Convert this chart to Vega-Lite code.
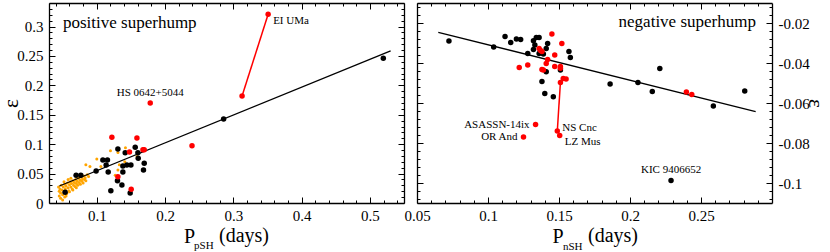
{
  "$schema": "https://vega.github.io/schema/vega-lite/v6.json",
  "width": 723,
  "height": 200,
  "autosize": {"type": "none"},
  "padding": {"left": 49, "top": 3, "right": 58, "bottom": 49},
  "background": "white",
  "config": {
    "view": {"stroke": null},
    "font": "Liberation Serif",
    "style": {"guide-label": {"font": "Liberation Serif", "fontSize": 15, "fill": "black"}, "guide-title": {"font": "Liberation Serif", "fontWeight": "normal"}},
    "axis": {
      "grid": false,
      "domainColor": "black",
      "domainWidth": 1.3,
      "tickColor": "black",
      "tickWidth": 1,
      "labelFont": "Liberation Serif",
      "labelFontSize": 15,
      "labelColor": "black",
      "labelFlush": false,
      "labelOverlap": false,
      "labelBound": false,
      "titleFont": "Liberation Serif",
      "titleFontWeight": "normal",
      "titleColor": "black"
    },
    "text": {"font": "Liberation Serif", "color": "black"}
  },
  "datasets": {
    "pos": [
      {"P": 0.0536, "e": 0.0182, "type": "black"},
      {"P": 0.0697, "e": 0.0471, "type": "black"},
      {"P": 0.0766, "e": 0.0471, "type": "black"},
      {"P": 0.099, "e": 0.0544, "type": "black"},
      {"P": 0.1089, "e": 0.0731, "type": "black"},
      {"P": 0.1156, "e": 0.0731, "type": "black"},
      {"P": 0.1137, "e": 0.0646, "type": "black"},
      {"P": 0.1167, "e": 0.0527, "type": "black"},
      {"P": 0.1206, "e": 0.0209, "type": "black"},
      {"P": 0.1309, "e": 0.0918, "type": "black"},
      {"P": 0.1303, "e": 0.0379, "type": "black"},
      {"P": 0.1368, "e": 0.0306, "type": "black"},
      {"P": 0.1382, "e": 0.0629, "type": "black"},
      {"P": 0.1382, "e": 0.0527, "type": "black"},
      {"P": 0.1416, "e": 0.0855, "type": "black"},
      {"P": 0.1441, "e": 0.0646, "type": "black"},
      {"P": 0.1489, "e": 0.017, "type": "black"},
      {"P": 0.15, "e": 0.0646, "type": "black"},
      {"P": 0.1563, "e": 0.0947, "type": "black"},
      {"P": 0.1607, "e": 0.076, "type": "black"},
      {"P": 0.1695, "e": 0.0675, "type": "black"},
      {"P": 0.1684, "e": 0.0561, "type": "black"},
      {"P": 0.1602, "e": 0.0855, "type": "black"},
      {"P": 0.2858, "e": 0.1429, "type": "black"},
      {"P": 0.5197, "e": 0.2461, "type": "black"},
      {"P": 0.1221, "e": 0.1117, "type": "red"},
      {"P": 0.1588, "e": 0.1105, "type": "red"},
      {"P": 0.1479, "e": 0.0867, "type": "red"},
      {"P": 0.1676, "e": 0.0906, "type": "red"},
      {"P": 0.1695, "e": 0.0906, "type": "red"},
      {"P": 0.1309, "e": 0.0447, "type": "red"},
      {"P": 0.1504, "e": 0.0233, "type": "red"},
      {"P": 0.2395, "e": 0.0974, "type": "red"},
      {"P": 0.1783, "e": 0.17, "type": "red"},
      {"P": 0.351, "e": 0.3209, "type": "red"},
      {"P": 0.3128, "e": 0.182, "type": "red"},
      {"P": 0.044, "e": 0.027, "type": "orange"},
      {"P": 0.045, "e": 0.02, "type": "orange"},
      {"P": 0.045, "e": 0.012, "type": "orange"},
      {"P": 0.046, "e": 0.024, "type": "orange"},
      {"P": 0.047, "e": 0.008, "type": "orange"},
      {"P": 0.047, "e": 0.017, "type": "orange"},
      {"P": 0.048, "e": 0.03, "type": "orange"},
      {"P": 0.049, "e": 0.022, "type": "orange"},
      {"P": 0.05, "e": 0.014, "type": "orange"},
      {"P": 0.05, "e": 0.005, "type": "orange"},
      {"P": 0.051, "e": 0.027, "type": "orange"},
      {"P": 0.052, "e": 0.019, "type": "orange"},
      {"P": 0.053, "e": 0.032, "type": "orange"},
      {"P": 0.053, "e": 0.01, "type": "orange"},
      {"P": 0.054, "e": 0.024, "type": "orange"},
      {"P": 0.055, "e": 0.029, "type": "orange"},
      {"P": 0.056, "e": 0.016, "type": "orange"},
      {"P": 0.057, "e": 0.034, "type": "orange"},
      {"P": 0.058, "e": 0.026, "type": "orange"},
      {"P": 0.059, "e": 0.021, "type": "orange"},
      {"P": 0.06, "e": 0.031, "type": "orange"},
      {"P": 0.061, "e": 0.036, "type": "orange"},
      {"P": 0.062, "e": 0.027, "type": "orange"},
      {"P": 0.063, "e": 0.033, "type": "orange"},
      {"P": 0.064, "e": 0.024, "type": "orange"},
      {"P": 0.065, "e": 0.038, "type": "orange"},
      {"P": 0.066, "e": 0.03, "type": "orange"},
      {"P": 0.067, "e": 0.035, "type": "orange"},
      {"P": 0.068, "e": 0.028, "type": "orange"},
      {"P": 0.069, "e": 0.04, "type": "orange"},
      {"P": 0.07, "e": 0.033, "type": "orange"},
      {"P": 0.071, "e": 0.037, "type": "orange"},
      {"P": 0.072, "e": 0.03, "type": "orange"},
      {"P": 0.073, "e": 0.042, "type": "orange"},
      {"P": 0.074, "e": 0.035, "type": "orange"},
      {"P": 0.075, "e": 0.039, "type": "orange"},
      {"P": 0.076, "e": 0.032, "type": "orange"},
      {"P": 0.077, "e": 0.044, "type": "orange"},
      {"P": 0.078, "e": 0.037, "type": "orange"},
      {"P": 0.079, "e": 0.041, "type": "orange"},
      {"P": 0.08, "e": 0.034, "type": "orange"},
      {"P": 0.081, "e": 0.046, "type": "orange"},
      {"P": 0.082, "e": 0.04, "type": "orange"},
      {"P": 0.083, "e": 0.043, "type": "orange"},
      {"P": 0.084, "e": 0.038, "type": "orange"},
      {"P": 0.086, "e": 0.048, "type": "orange"},
      {"P": 0.088, "e": 0.045, "type": "orange"},
      {"P": 0.06, "e": 0.019, "type": "orange"},
      {"P": 0.055, "e": 0.012, "type": "orange"},
      {"P": 0.065, "e": 0.022, "type": "orange"},
      {"P": 0.07, "e": 0.026, "type": "orange"},
      {"P": 0.058, "e": 0.04, "type": "orange"},
      {"P": 0.062, "e": 0.042, "type": "orange"},
      {"P": 0.052, "e": 0.036, "type": "orange"},
      {"P": 0.131, "e": 0.086, "type": "orange"},
      {"P": 0.142, "e": 0.094, "type": "orange"},
      {"P": 0.133, "e": 0.065, "type": "orange"},
      {"P": 0.131, "e": 0.056, "type": "orange"},
      {"P": 0.159, "e": 0.079, "type": "orange"},
      {"P": 0.141, "e": 0.07, "type": "orange"},
      {"P": 0.1, "e": 0.075, "type": "orange"},
      {"P": 0.106, "e": 0.062, "type": "orange"},
      {"P": 0.12, "e": 0.089, "type": "orange"},
      {"P": 0.127, "e": 0.047, "type": "orange"},
      {"P": 0.084, "e": 0.065, "type": "orange"},
      {"P": 0.09, "e": 0.062, "type": "orange"}
    ],
    "pos_fit": [{"P": 0.0452, "e": 0.0289}, {"P": 0.5304, "e": 0.2585}],
    "ei": [{"P": 0.3128, "e": 0.182}, {"P": 0.351, "e": 0.3209}],
    "pos_lab": [
      {"P": 0.1783, "e": 0.17, "name": "HS 0642+5044", "pos": "above"},
      {"P": 0.351, "e": 0.3209, "name": "EI UMa", "pos": "right"}
    ],
    "neg": [
      {"P": 0.0725, "e": -0.029, "type": "black"},
      {"P": 0.104, "e": -0.032, "type": "black"},
      {"P": 0.112, "e": -0.0268, "type": "black"},
      {"P": 0.116, "e": -0.0297, "type": "black"},
      {"P": 0.12, "e": -0.028, "type": "black"},
      {"P": 0.123, "e": -0.0283, "type": "black"},
      {"P": 0.128, "e": -0.0353, "type": "black"},
      {"P": 0.132, "e": -0.0289, "type": "black"},
      {"P": 0.133, "e": -0.031, "type": "black"},
      {"P": 0.134, "e": -0.0272, "type": "black"},
      {"P": 0.136, "e": -0.0272, "type": "black"},
      {"P": 0.132, "e": -0.0332, "type": "black"},
      {"P": 0.136, "e": -0.0352, "type": "black"},
      {"P": 0.139, "e": -0.0355, "type": "black"},
      {"P": 0.141, "e": -0.0327, "type": "black"},
      {"P": 0.142, "e": -0.0302, "type": "black"},
      {"P": 0.141, "e": -0.0444, "type": "black"},
      {"P": 0.151, "e": -0.0435, "type": "black"},
      {"P": 0.138, "e": -0.0492, "type": "black"},
      {"P": 0.14, "e": -0.0553, "type": "black"},
      {"P": 0.146, "e": -0.0569, "type": "black"},
      {"P": 0.157, "e": -0.0342, "type": "black"},
      {"P": 0.158, "e": -0.0372, "type": "black"},
      {"P": 0.186, "e": -0.0505, "type": "black"},
      {"P": 0.2056, "e": -0.0498, "type": "black"},
      {"P": 0.2157, "e": -0.0543, "type": "black"},
      {"P": 0.221, "e": -0.0427, "type": "black"},
      {"P": 0.2587, "e": -0.0615, "type": "black"},
      {"P": 0.2808, "e": -0.054, "type": "black"},
      {"P": 0.2289, "e": -0.0987, "type": "black"},
      {"P": 0.145, "e": -0.0255, "type": "red"},
      {"P": 0.152, "e": -0.0302, "type": "red"},
      {"P": 0.136, "e": -0.0327, "type": "red"},
      {"P": 0.137, "e": -0.0338, "type": "red"},
      {"P": 0.138, "e": -0.0343, "type": "red"},
      {"P": 0.147, "e": -0.036, "type": "red"},
      {"P": 0.142, "e": -0.0382, "type": "red"},
      {"P": 0.141, "e": -0.0402, "type": "red"},
      {"P": 0.128, "e": -0.041, "type": "red"},
      {"P": 0.122, "e": -0.0422, "type": "red"},
      {"P": 0.138, "e": -0.0432, "type": "red"},
      {"P": 0.139, "e": -0.0435, "type": "red"},
      {"P": 0.147, "e": -0.0418, "type": "red"},
      {"P": 0.151, "e": -0.0418, "type": "red"},
      {"P": 0.151, "e": -0.0426, "type": "red"},
      {"P": 0.153, "e": -0.0478, "type": "red"},
      {"P": 0.155, "e": -0.048, "type": "red"},
      {"P": 0.151, "e": -0.0497, "type": "red"},
      {"P": 0.2397, "e": -0.0545, "type": "red"},
      {"P": 0.2435, "e": -0.0558, "type": "red"},
      {"P": 0.1335, "e": -0.0708, "type": "red"},
      {"P": 0.125, "e": -0.077, "type": "red"},
      {"P": 0.1488, "e": -0.074, "type": "red"},
      {"P": 0.1505, "e": -0.0763, "type": "red"}
    ],
    "neg_fit": [{"P": 0.065, "e": -0.0247}, {"P": 0.2885, "e": -0.0643}],
    "ns": [{"P": 0.151, "e": -0.0497}, {"P": 0.1488, "e": -0.074}],
    "neg_lab": [
      {"P": 0.1335, "e": -0.0708, "name": "ASASSN-14ix", "pos": "left"},
      {"P": 0.125, "e": -0.077, "name": "OR And", "pos": "left"},
      {"P": 0.1488, "e": -0.074, "name": "NS Cnc", "pos": "rightup"},
      {"P": 0.1505, "e": -0.0763, "name": "LZ Mus", "pos": "rightdown"},
      {"P": 0.2289, "e": -0.0987, "name": "KIC 9406652", "pos": "above"}
    ],
    "one": [{"k": 1}]
  },
  "resolve": {"scale": {"x": "independent", "y": "independent"}, "axis": {"x": "independent", "y": "independent"}},
  "layer": [
    {
      "resolve": {"axis": {"x": "independent", "y": "independent"}},
      "layer": [
        {
          "data": {"name": "pos"},
          "transform": [{"filter": "datum.type == 'orange'"}],
          "mark": {"type": "circle", "size": 9, "opacity": 1, "color": "#ffa500"},
          "encoding": {
            "x": {"field": "P", "type": "quantitative", "scale": {"domain": [0.03, 0.55], "range": [0, 355], "nice": false, "zero": false},
              "axis": {"orient": "bottom", "values": [0.04,0.06,0.08,0.1,0.12,0.14,0.16,0.18,0.2,0.22,0.24,0.26,0.28,0.3,0.32,0.34,0.36,0.38,0.4,0.42,0.44,0.46,0.48,0.5,0.52,0.54],
                "labelExpr": "indexof([0.1,0.2,0.3,0.4,0.5], datum.value) >= 0 ? toString(datum.value) : ''",
                "tickSize": {"condition": {"test": "indexof([0.1,0.2,0.3,0.4,0.5], datum.value) >= 0", "value": -6}, "value": -3},
                "labelPadding": 11, "labelFont": "Liberation Serif", "labelFontSize": 15,
                "title": "P", "titleFont": "Liberation Serif", "titleFontWeight": "normal", "titleFontSize": 20, "titleAlign": "left", "titleX": 134.5, "titleBaseline": "alphabetic", "titleY": 39}},
            "y": {"field": "e", "type": "quantitative", "scale": {"domain": [0, 0.34], "range": [200, 0], "nice": false, "zero": false},
              "axis": {"orient": "left", "values": [0,0.01,0.02,0.03,0.04,0.05,0.06,0.07,0.08,0.09,0.1,0.11,0.12,0.13,0.14,0.15,0.16,0.17,0.18,0.19,0.2,0.21,0.22,0.23,0.24,0.25,0.26,0.27,0.28,0.29,0.3,0.31,0.32,0.33,0.34],
                "labelExpr": "indexof([0,0.05,0.1,0.15,0.2,0.25,0.3], datum.value) >= 0 ? toString(datum.value) : ''",
                "tickSize": {"condition": {"test": "indexof([0,0.05,0.1,0.15,0.2,0.25,0.3], datum.value) >= 0", "value": -6}, "value": -3},
                "labelPadding": 12, "labelFont": "Liberation Serif", "labelFontSize": 15,
                "title": "ε", "titleFont": "Liberation Serif", "titleFontWeight": "normal", "titleFontSize": 21, "titleAngle": 270, "titleX": -38, "titleY": 100, "titleAlign": "center", "titleBaseline": "middle"}}
          }
        },
        {
          "data": {"name": "pos_fit"},
          "mark": {"type": "line", "color": "black", "strokeWidth": 1.3},
          "encoding": {
            "x": {"field": "P", "type": "quantitative", "scale": {"domain": [0.03, 0.55], "range": [0, 355], "nice": false, "zero": false},
              "axis": {"orient": "top", "values": [0.04,0.06,0.08,0.1,0.12,0.14,0.16,0.18,0.2,0.22,0.24,0.26,0.28,0.3,0.32,0.34,0.36,0.38,0.4,0.42,0.44,0.46,0.48,0.5,0.52,0.54],
                "labels": false, "title": null,
                "tickSize": {"condition": {"test": "indexof([0.1,0.2,0.3,0.4,0.5], datum.value) >= 0", "value": -6}, "value": -3}}},
            "y": {"field": "e", "type": "quantitative", "scale": {"domain": [0, 0.34], "range": [200, 0], "nice": false, "zero": false},
              "axis": {"orient": "right", "offset": -368, "values": [0,0.01,0.02,0.03,0.04,0.05,0.06,0.07,0.08,0.09,0.1,0.11,0.12,0.13,0.14,0.15,0.16,0.17,0.18,0.19,0.2,0.21,0.22,0.23,0.24,0.25,0.26,0.27,0.28,0.29,0.3,0.31,0.32,0.33,0.34],
                "labels": false, "title": null,
                "tickSize": {"condition": {"test": "indexof([0,0.05,0.1,0.15,0.2,0.25,0.3], datum.value) >= 0", "value": -6}, "value": -3}}}
          }
        },
        {
          "data": {"name": "pos"},
          "transform": [{"filter": "datum.type == 'black'"}],
          "mark": {"type": "circle", "size": 30, "opacity": 1, "color": "black"},
          "encoding": {
            "x": {"field": "P", "type": "quantitative", "scale": {"domain": [0.03, 0.55], "range": [0, 355], "nice": false, "zero": false}, "axis": null},
            "y": {"field": "e", "type": "quantitative", "scale": {"domain": [0, 0.34], "range": [200, 0], "nice": false, "zero": false}, "axis": null}
          }
        },
        {
          "data": {"name": "ei"},
          "mark": {"type": "line", "color": "#ff0000", "strokeWidth": 1.5},
          "encoding": {
            "x": {"field": "P", "type": "quantitative", "scale": {"domain": [0.03, 0.55], "range": [0, 355], "nice": false, "zero": false}, "axis": null},
            "y": {"field": "e", "type": "quantitative", "scale": {"domain": [0, 0.34], "range": [200, 0], "nice": false, "zero": false}, "axis": null}
          }
        },
        {
          "data": {"name": "pos"},
          "transform": [{"filter": "datum.type == 'red'"}],
          "mark": {"type": "circle", "size": 30, "opacity": 1, "color": "#ff0000"},
          "encoding": {
            "x": {"field": "P", "type": "quantitative", "scale": {"domain": [0.03, 0.55], "range": [0, 355], "nice": false, "zero": false}, "axis": null},
            "y": {"field": "e", "type": "quantitative", "scale": {"domain": [0, 0.34], "range": [200, 0], "nice": false, "zero": false}, "axis": null}
          }
        },
        {
          "data": {"name": "pos_lab"},
          "transform": [{"filter": "datum.pos == 'above'"}],
          "mark": {"type": "text", "font": "Liberation Serif", "fontSize": 11, "align": "center", "baseline": "alphabetic", "dy": -7},
          "encoding": {
            "x": {"field": "P", "type": "quantitative", "scale": {"domain": [0.03, 0.55], "range": [0, 355], "nice": false, "zero": false}, "axis": null},
            "y": {"field": "e", "type": "quantitative", "scale": {"domain": [0, 0.34], "range": [200, 0], "nice": false, "zero": false}, "axis": null},
            "text": {"field": "name"}
          }
        },
        {
          "data": {"name": "pos_lab"},
          "transform": [{"filter": "datum.pos == 'right'"}],
          "mark": {"type": "text", "font": "Liberation Serif", "fontSize": 11, "align": "left", "baseline": "middle", "dx": 5, "dy": 7},
          "encoding": {
            "x": {"field": "P", "type": "quantitative", "scale": {"domain": [0.03, 0.55], "range": [0, 355], "nice": false, "zero": false}, "axis": null},
            "y": {"field": "e", "type": "quantitative", "scale": {"domain": [0, 0.34], "range": [200, 0], "nice": false, "zero": false}, "axis": null},
            "text": {"field": "name"}
          }
        },
        {
          "data": {"name": "one"},
          "mark": {"type": "text", "font": "Liberation Serif", "fontSize": 17, "align": "left", "baseline": "alphabetic", "text": "positive superhump"},
          "encoding": {
            "x": {"datum": 0.0505, "type": "quantitative", "scale": {"domain": [0.03, 0.55], "range": [0, 355], "nice": false, "zero": false}, "axis": null},
            "y": {"datum": 0.2975, "type": "quantitative", "scale": {"domain": [0, 0.34], "range": [200, 0], "nice": false, "zero": false}, "axis": null}
          }
        },
        {
          "data": {"name": "one"},
          "mark": {"type": "text", "font": "Liberation Serif", "fontSize": 11, "align": "left", "baseline": "alphabetic", "text": "pSH"},
          "encoding": {
            "x": {"datum": 0.2425, "type": "quantitative", "scale": {"domain": [0.03, 0.55], "range": [0, 355], "nice": false, "zero": false}, "axis": null},
            "y": {"datum": -0.0782, "type": "quantitative", "scale": {"domain": [0, 0.34], "range": [200, 0], "nice": false, "zero": false}, "axis": null}
          }
        },
        {
          "data": {"name": "one"},
          "mark": {"type": "text", "font": "Liberation Serif", "fontSize": 20, "align": "left", "baseline": "alphabetic", "text": "(days)"},
          "encoding": {
            "x": {"datum": 0.279, "type": "quantitative", "scale": {"domain": [0.03, 0.55], "range": [0, 355], "nice": false, "zero": false}, "axis": null},
            "y": {"datum": -0.0663, "type": "quantitative", "scale": {"domain": [0, 0.34], "range": [200, 0], "nice": false, "zero": false}, "axis": null}
          }
        }
      ]
    },
    {
      "resolve": {"axis": {"x": "independent", "y": "independent"}},
      "layer": [
        {
          "data": {"name": "neg_fit"},
          "mark": {"type": "line", "color": "black", "strokeWidth": 1.3},
          "encoding": {
            "x": {"field": "P", "type": "quantitative", "scale": {"domain": [0.05, 0.3], "range": [368, 723], "nice": false, "zero": false},
              "axis": {"orient": "bottom", "values": [0.05,0.06,0.07,0.08,0.09,0.1,0.11,0.12,0.13,0.14,0.15,0.16,0.17,0.18,0.19,0.2,0.21,0.22,0.23,0.24,0.25,0.26,0.27,0.28,0.29],
                "labelExpr": "indexof([0.05,0.1,0.15,0.2,0.25], datum.value) >= 0 ? toString(datum.value) : ''",
                "tickSize": {"condition": {"test": "indexof([0.05,0.1,0.15,0.2,0.25], datum.value) >= 0", "value": -6}, "value": -3},
                "labelPadding": 11, "labelFont": "Liberation Serif", "labelFontSize": 15,
                "title": "P", "titleFont": "Liberation Serif", "titleFontWeight": "normal", "titleFontSize": 20, "titleAlign": "left", "titleX": 503, "titleBaseline": "alphabetic", "titleY": 39}},
            "y": {"field": "e", "type": "quantitative", "scale": {"domain": [-0.11, -0.01], "range": [200, 0], "nice": false, "zero": false},
              "axis": {"orient": "right", "values": [-0.108,-0.104,-0.1,-0.096,-0.092,-0.088,-0.084,-0.08,-0.076,-0.072,-0.068,-0.064,-0.06,-0.056,-0.052,-0.048,-0.044,-0.04,-0.036,-0.032,-0.028,-0.024,-0.02,-0.016,-0.012],
                "labelExpr": "indexof([-0.02,-0.04,-0.06,-0.08,-0.1], datum.value) >= 0 ? toString(datum.value) : ''",
                "tickSize": {"condition": {"test": "indexof([-0.02,-0.04,-0.06,-0.08,-0.1], datum.value) >= 0", "value": -6}, "value": -3},
                "labelPadding": 12, "labelFont": "Liberation Serif", "labelFontSize": 15,
                "title": "ε", "titleFont": "Liberation Serif", "titleFontWeight": "normal", "titleFontSize": 21, "titleAngle": 90, "titleX": 42, "titleY": 100, "titleAlign": "center", "titleBaseline": "middle"}}
          }
        },
        {
          "data": {"name": "ns"},
          "mark": {"type": "line", "color": "#ff0000", "strokeWidth": 1.5},
          "encoding": {
            "x": {"field": "P", "type": "quantitative", "scale": {"domain": [0.05, 0.3], "range": [368, 723], "nice": false, "zero": false},
              "axis": {"orient": "top", "values": [0.05,0.06,0.07,0.08,0.09,0.1,0.11,0.12,0.13,0.14,0.15,0.16,0.17,0.18,0.19,0.2,0.21,0.22,0.23,0.24,0.25,0.26,0.27,0.28,0.29],
                "labels": false, "title": null,
                "tickSize": {"condition": {"test": "indexof([0.05,0.1,0.15,0.2,0.25], datum.value) >= 0", "value": -6}, "value": -3}}},
            "y": {"field": "e", "type": "quantitative", "scale": {"domain": [-0.11, -0.01], "range": [200, 0], "nice": false, "zero": false},
              "axis": {"orient": "left", "offset": -368, "values": [-0.108,-0.104,-0.1,-0.096,-0.092,-0.088,-0.084,-0.08,-0.076,-0.072,-0.068,-0.064,-0.06,-0.056,-0.052,-0.048,-0.044,-0.04,-0.036,-0.032,-0.028,-0.024,-0.02,-0.016,-0.012],
                "labels": false, "title": null,
                "tickSize": {"condition": {"test": "indexof([-0.02,-0.04,-0.06,-0.08,-0.1], datum.value) >= 0", "value": -6}, "value": -3}}}
          }
        },
        {
          "data": {"name": "neg"},
          "transform": [{"filter": "datum.type == 'black'"}],
          "mark": {"type": "circle", "size": 30, "opacity": 1, "color": "black"},
          "encoding": {
            "x": {"field": "P", "type": "quantitative", "scale": {"domain": [0.05, 0.3], "range": [368, 723], "nice": false, "zero": false}, "axis": null},
            "y": {"field": "e", "type": "quantitative", "scale": {"domain": [-0.11, -0.01], "range": [200, 0], "nice": false, "zero": false}, "axis": null}
          }
        },
        {
          "data": {"name": "neg"},
          "transform": [{"filter": "datum.type == 'red'"}],
          "mark": {"type": "circle", "size": 30, "opacity": 1, "color": "#ff0000"},
          "encoding": {
            "x": {"field": "P", "type": "quantitative", "scale": {"domain": [0.05, 0.3], "range": [368, 723], "nice": false, "zero": false}, "axis": null},
            "y": {"field": "e", "type": "quantitative", "scale": {"domain": [-0.11, -0.01], "range": [200, 0], "nice": false, "zero": false}, "axis": null}
          }
        },
        {
          "data": {"name": "neg_lab"},
          "transform": [{"filter": "datum.pos == 'left'"}],
          "mark": {"type": "text", "font": "Liberation Serif", "fontSize": 11, "align": "right", "baseline": "middle", "dx": -6},
          "encoding": {
            "x": {"field": "P", "type": "quantitative", "scale": {"domain": [0.05, 0.3], "range": [368, 723], "nice": false, "zero": false}, "axis": null},
            "y": {"field": "e", "type": "quantitative", "scale": {"domain": [-0.11, -0.01], "range": [200, 0], "nice": false, "zero": false}, "axis": null},
            "text": {"field": "name"}
          }
        },
        {
          "data": {"name": "neg_lab"},
          "transform": [{"filter": "datum.pos == 'rightup'"}],
          "mark": {"type": "text", "font": "Liberation Serif", "fontSize": 11, "align": "left", "baseline": "middle", "dx": 5, "dy": -3},
          "encoding": {
            "x": {"field": "P", "type": "quantitative", "scale": {"domain": [0.05, 0.3], "range": [368, 723], "nice": false, "zero": false}, "axis": null},
            "y": {"field": "e", "type": "quantitative", "scale": {"domain": [-0.11, -0.01], "range": [200, 0], "nice": false, "zero": false}, "axis": null},
            "text": {"field": "name"}
          }
        },
        {
          "data": {"name": "neg_lab"},
          "transform": [{"filter": "datum.pos == 'rightdown'"}],
          "mark": {"type": "text", "font": "Liberation Serif", "fontSize": 11, "align": "left", "baseline": "middle", "dx": 5, "dy": 6},
          "encoding": {
            "x": {"field": "P", "type": "quantitative", "scale": {"domain": [0.05, 0.3], "range": [368, 723], "nice": false, "zero": false}, "axis": null},
            "y": {"field": "e", "type": "quantitative", "scale": {"domain": [-0.11, -0.01], "range": [200, 0], "nice": false, "zero": false}, "axis": null},
            "text": {"field": "name"}
          }
        },
        {
          "data": {"name": "neg_lab"},
          "transform": [{"filter": "datum.pos == 'above'"}],
          "mark": {"type": "text", "font": "Liberation Serif", "fontSize": 11, "align": "center", "baseline": "alphabetic", "dy": -7},
          "encoding": {
            "x": {"field": "P", "type": "quantitative", "scale": {"domain": [0.05, 0.3], "range": [368, 723], "nice": false, "zero": false}, "axis": null},
            "y": {"field": "e", "type": "quantitative", "scale": {"domain": [-0.11, -0.01], "range": [200, 0], "nice": false, "zero": false}, "axis": null},
            "text": {"field": "name"}
          }
        },
        {
          "data": {"name": "one"},
          "mark": {"type": "text", "font": "Liberation Serif", "fontSize": 17, "align": "right", "baseline": "alphabetic", "text": "negative superhump"},
          "encoding": {
            "x": {"datum": 0.2887, "type": "quantitative", "scale": {"domain": [0.05, 0.3], "range": [368, 723], "nice": false, "zero": false}, "axis": null},
            "y": {"datum": -0.022, "type": "quantitative", "scale": {"domain": [-0.11, -0.01], "range": [200, 0], "nice": false, "zero": false}, "axis": null}
          }
        },
        {
          "data": {"name": "one"},
          "mark": {"type": "text", "font": "Liberation Serif", "fontSize": 11, "align": "left", "baseline": "alphabetic", "text": "nSH"},
          "encoding": {
            "x": {"datum": 0.1528, "type": "quantitative", "scale": {"domain": [0.05, 0.3], "range": [368, 723], "nice": false, "zero": false}, "axis": null},
            "y": {"datum": -0.1335, "type": "quantitative", "scale": {"domain": [-0.11, -0.01], "range": [200, 0], "nice": false, "zero": false}, "axis": null}
          }
        },
        {
          "data": {"name": "one"},
          "mark": {"type": "text", "font": "Liberation Serif", "fontSize": 20, "align": "left", "baseline": "alphabetic", "text": "(days)"},
          "encoding": {
            "x": {"datum": 0.1704, "type": "quantitative", "scale": {"domain": [0.05, 0.3], "range": [368, 723], "nice": false, "zero": false}, "axis": null},
            "y": {"datum": -0.1295, "type": "quantitative", "scale": {"domain": [-0.11, -0.01], "range": [200, 0], "nice": false, "zero": false}, "axis": null}
          }
        }
      ]
    }
  ]
}
